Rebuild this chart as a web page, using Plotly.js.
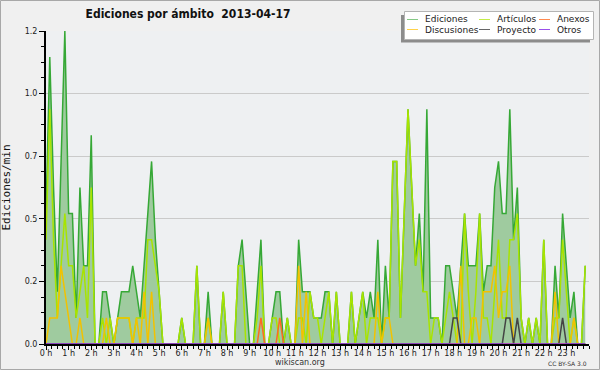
<!DOCTYPE html>
<html>
<head>
<meta charset="utf-8">
<script src="https://cdn.plot.ly/plotly-3.0.1.min.js"></script>
<style>
html,body{margin:0;padding:0;background:#f0f0f0;}
#chart{width:600px;height:370px;}
</style>
</head>
<body>
<div id="chart"></div>
<script>
// ---- data (10-minute bins, edits per minute) ----
const binMinutes = 10;
const hourLabels = ['0 h','1 h','2 h','3 h','4 h','5 h','6 h','7 h','8 h','9 h','10 h','11 h',
                    '12 h','13 h','14 h','15 h','16 h','17 h','18 h','19 h','20 h','21 h','22 h','23 h'];
const seriesNames = ['Ediciones','Artículos','Discusiones','Anexos','Proyecto','Otros'];

const ediciones = [
 0.5,1.1,0.6,0.2,0.7,1.2,0.5,0.5,0.1,0.6,0.3,0.3,
 0.8,0,0,0.2,0.2,0.1,0,0.1,0.2,0.2,0.2,0.3,
 0.2,0.1,0.3,0.5,0.7,0.4,0.2,0,0,0,0,0,
 0.1,0,0,0,0.3,0,0,0.2,0,0,0,0.2,
 0,0,0,0.3,0.4,0.2,0,0,0.2,0.4,0,0,
 0.1,0.2,0.2,0,0.1,0,0,0.4,0.2,0.2,0.2,0.1,
 0.1,0.1,0.2,0.2,0,0.2,0,0,0,0.2,0,0.1,
 0.2,0.1,0.2,0.1,0.4,0,0.3,0.1,0.7,0.7,0.1,0.5,
 0.9,0.6,0.3,0.5,0.2,0.9,0.1,0.1,0.1,0,0.3,0.3,
 0.2,0.1,0.3,0.5,0.3,0.3,0.3,0.5,0.2,0.3,0.3,0.6,
 0.7,0.5,0.5,0.9,0.4,0.6,0.1,0,0.1,0,0.1,0,
 0.4,0,0,0.3,0.1,0.5,0.3,0.1,0.2,0,0,0.3
];
const articulos = [
 0.4,0.9,0.4,0.1,0.3,0.5,0.3,0.3,0.1,0.2,0.3,0.1,
 0.6,0,0,0.1,0,0.1,0,0.1,0.1,0.1,0.1,0,
 0.1,0.1,0.1,0.4,0.4,0.3,0.2,0,0,0,0,0,
 0.1,0,0,0,0.3,0,0,0.1,0,0,0,0.2,
 0,0,0,0.3,0.3,0,0,0,0.1,0.3,0,0,
 0.1,0.1,0,0,0.1,0,0,0.1,0.1,0,0.2,0.1,
 0.1,0,0.1,0.2,0,0.2,0,0,0,0.2,0,0.1,
 0.2,0,0.1,0.1,0.1,0,0.1,0.1,0.7,0.7,0.1,0.5,
 0.9,0.6,0.3,0.4,0.2,0.2,0,0.1,0.1,0,0.1,0.2,
 0.1,0,0,0.5,0.2,0,0.2,0.5,0.1,0.1,0,0.2,
 0.4,0.1,0.1,0.4,0.4,0.5,0.1,0,0.1,0,0.1,0,
 0.4,0,0,0.1,0.1,0.4,0.2,0,0.1,0,0,0.3
];
const discusiones = [
 0,0.1,0.1,0.1,0.3,0.2,0.1,0,0,0.1,0,0,
 0,0,0,0,0.1,0,0,0.1,0.1,0.1,0.1,0,
 0.1,0,0.2,0,0.2,0,0,0,0,0,0,0,
 0,0,0,0,0,0,0,0.1,0,0,0,0,
 0,0,0,0,0,0,0,0,0,0,0,0,
 0,0,0,0,0,0,0,0.3,0,0.2,0,0,
 0,0,0,0,0,0,0,0,0,0,0,0,
 0,0,0,0,0.2,0,0.1,0.1,0,0,0,0,
 0,0,0,0,0,0,0,0,0,0,0,0,
 0,0,0.3,0,0,0.1,0.1,0,0.2,0.2,0.2,0.3,
 0.1,0.2,0.2,0.3,0,0,0,0,0,0,0,0,
 0,0,0,0.2,0,0,0,0,0.1,0,0,0
];
const anexos = [
 0,0,0,0,0,0,0,0,0,0,0,0,
 0,0,0,0,0,0,0,0,0,0,0,0,
 0,0,0,0,0,0,0,0,0,0,0,0,
 0,0,0,0,0,0,0,0,0,0,0,0,
 0,0,0,0,0,0,0,0,0,0.1,0,0,
 0,0,0.1,0,0,0,0,0,0,0,0,0,
 0,0,0,0,0,0,0,0,0,0,0,0,
 0,0,0,0,0,0,0,0,0,0,0,0,
 0,0,0,0,0,0,0,0,0,0,0,0,
 0,0,0,0,0,0,0,0,0,0,0,0,
 0,0,0,0,0,0,0,0,0,0,0,0,
 0,0,0,0,0,0,0,0,0,0,0,0
];
const proyecto = [
 0,0,0,0,0,0,0,0,0,0,0,0,
 0,0,0,0,0,0,0,0,0,0,0,0,
 0,0,0,0,0,0,0,0,0,0,0,0,
 0,0,0,0,0,0,0,0,0,0,0,0,
 0,0,0,0,0,0,0,0,0,0,0,0,
 0,0,0,0,0,0,0,0,0,0,0,0,
 0,0,0,0,0,0,0,0,0,0,0,0,
 0,0,0,0,0,0,0,0,0,0,0,0,
 0,0,0,0,0,0,0,0,0,0,0,0,
 0.1,0.1,0,0,0,0,0,0,0,0,0,0,
 0,0,0.1,0.1,0,0.1,0,0,0,0,0,0,
 0,0,0,0,0,0.1,0,0,0,0,0,0
];
const otros = [
 0,0,0,0,0,0,0,0,0,0,0,0,
 0,0,0,0,0,0,0,0,0,0,0,0,
 0,0,0,0,0,0,0,0,0,0,0,0,
 0,0,0,0,0,0,0,0,0,0,0,0,
 0,0,0,0,0,0,0,0,0,0,0,0,
 0,0,0,0,0,0,0,0,0,0,0,0,
 0,0,0,0,0,0,0,0,0,0,0,0,
 0,0,0,0,0,0,0,0,0,0,0,0,
 0,0,0,0,0,0,0,0,0,0,0,0,
 0,0,0,0,0,0,0,0,0,0,0,0,
 0,0,0,0,0,0,0,0,0,0,0,0,
 0,0,0,0,0,0,0,0,0,0,0,0
];
const yTickVals = [0, 0.24, 0.48, 0.72, 0.96, 1.2];
const yTickText = ['0.0','0.2','0.5','0.7','1.0','1.2'];

// ---- styling ----
const seriesValues = [ediciones, articulos, discusiones, anexos, proyecto, otros];
const lineColors = ['#36a836','#a8e400','#f2c200','#ff6a22','#444444','#9640e6'];
const legendColors = ['#86c986','#c4ec48','#ffd24a','#ff8a50','#666666','#9a50ea'];
const hours = ediciones.map((_, i) => i * binMinutes / 60);

const traces = seriesValues.map((vals, k) => ({
  type: 'scatter', mode: 'lines', name: seriesNames[k],
  x: hours, y: vals,
  line: {color: lineColors[k], width: 1.5},
  fill: k === 0 ? 'tozeroy' : 'none',
  fillcolor: '#9fcb9f',
  showlegend: false, hoverinfo: 'skip'
}));

// plot area in pixels
const W = 600, H = 370, L = 46, R = 11, T = 31, B = 26;
const pw = W - L - R, ph = H - T - B;
const px = v => (v - L) / pw;
const py = v => (H - B - v) / ph;

const shapes = [];
const annotations = [];
// outer border
shapes.push({type:'rect', xref:'paper', yref:'paper', x0:px(0.5), x1:px(599.5), y0:py(0.5), y1:py(369.5),
  line:{color:'#a8a8a8', width:1}, layer:'above'});
// legend shadow + box
shapes.push({type:'rect', xref:'paper', yref:'paper', x0:px(401), x1:px(590), y0:py(15), y1:py(42.5),
  fillcolor:'#8c8c8c', line:{width:0}, layer:'above'});
shapes.push({type:'rect', xref:'paper', yref:'paper', x0:px(404.5), x1:px(593.5), y0:py(11.5), y1:py(39.5),
  fillcolor:'#ffffff', line:{color:'#b4b4b4', width:1}, layer:'above'});
const legendOrder = [0, 1, 3, 2, 4, 5]; // row-major: Ediciones, Artículos, Anexos / Discusiones, Proyecto, Otros
const colX = [407, 479, 539];
const rowY = [19.5, 29.5];
legendOrder.forEach((k, n) => {
  const c = n % 3, r = Math.floor(n / 3);
  shapes.push({type:'line', xref:'paper', yref:'paper', x0:px(colX[c]), x1:px(colX[c] + 11),
    y0:py(rowY[r]), y1:py(rowY[r]), line:{color:legendColors[k], width:1}, layer:'above'});
  annotations.push({xref:'paper', yref:'paper', x:px(colX[c] + 16), y:py(rowY[r]), xanchor:'left', yanchor:'middle',
    text:seriesNames[k], showarrow:false, font:{family:'DejaVu Sans', size:9, color:'#222'}});
});
annotations.push({xref:'paper', yref:'paper', x:px(300), y:py(362), xanchor:'center', yanchor:'middle',
  text:'wikiscan.org', showarrow:false, font:{family:'DejaVu Sans', size:8, color:'#333'}});
annotations.push({xref:'paper', yref:'paper', x:px(589), y:py(363), xanchor:'right', yanchor:'middle',
  text:'CC BY-SA 3.0', showarrow:false, font:{family:'DejaVu Sans', size:6, color:'#333'}});

const layout = {
  width: W, height: H,
  margin: {l: L, r: R, t: T, b: B, pad: 0},
  paper_bgcolor: '#f0f0f0', plot_bgcolor: '#eef0f2',
  title: {text: 'Ediciones por ámbito  2013-04-17', xref: 'container', yref: 'container',
          x: 188 / W, xanchor: 'center', y: 1 - 14 / H, yanchor: 'middle',
          font: {family: 'DejaVu Sans Condensed, DejaVu Sans', size: 12, weight: 'bold', color: '#111'}},
  xaxis: {range: [0, 24], tickmode: 'array', tickvals: hourLabels.map((_, h) => h), ticktext: hourLabels,
          ticks: 'outside', ticklen: 4, tickwidth: 1, tickcolor: '#000', ticklabelstandoff: -4,
          showline: true, linecolor: '#000', linewidth: 2, showgrid: false, zeroline: false,
          tickfont: {family: 'DejaVu Sans', size: 8, color: '#222'},
          minor: {dtick: 0.25, tick0: 0, ticks: 'outside', ticklen: 3, tickcolor: '#000', showgrid: false},
          fixedrange: true},
  yaxis: {range: [0, 1.2], tickmode: 'array', tickvals: yTickVals, ticktext: yTickText,
          ticks: 'outside', ticklen: 5, tickwidth: 1, tickcolor: '#000',
          showline: true, linecolor: '#000', linewidth: 2, showgrid: true, gridcolor: '#cacaca', gridwidth: 1,
          zeroline: false,
          tickfont: {family: 'DejaVu Sans', size: 8, color: '#222'},
          minor: {dtick: 0.06, tick0: 0, ticks: 'outside', ticklen: 3, tickcolor: '#000', showgrid: false},
          title: {text: 'Ediciones/min', standoff: 16, font: {family: 'DejaVu Sans Mono', size: 11, color: '#111'}},
          fixedrange: true},
  shapes: shapes,
  annotations: annotations,
  showlegend: false,
  hovermode: false
};

Plotly.newPlot('chart', traces, layout, {staticPlot: true, displayModeBar: false});
</script>
</body>
</html>
